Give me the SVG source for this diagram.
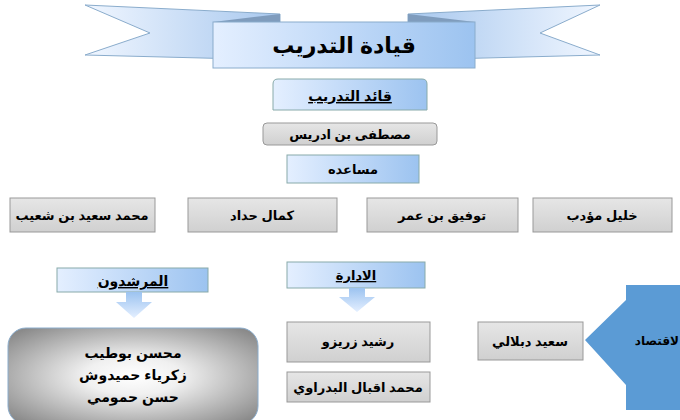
<svg xmlns="http://www.w3.org/2000/svg" width="680" height="420" viewBox="0 0 680 420">
<defs>
<linearGradient id="bl" x1="0" x2="1" y1="0" y2="0"><stop offset="0" stop-color="#e4efff"/><stop offset="1" stop-color="#9cc3f0"/></linearGradient>
<linearGradient id="blv" x1="0" x2="0" y1="0" y2="1"><stop offset="0" stop-color="#9cc3f0"/><stop offset="1" stop-color="#e4efff"/></linearGradient>
<linearGradient id="wl" x1="0" x2="1"><stop offset="0" stop-color="#f0f6ff"/><stop offset="1" stop-color="#a8c8ee"/></linearGradient>
<linearGradient id="wr" x1="1" x2="0"><stop offset="0" stop-color="#f0f6ff"/><stop offset="1" stop-color="#a8c8ee"/></linearGradient>
<radialGradient id="gr" cx="0.5" cy="0.5" r="0.65"><stop offset="0" stop-color="#ffffff"/><stop offset="0.3" stop-color="#f0f0f0"/><stop offset="1" stop-color="#8a8a8a"/></radialGradient>
<linearGradient id="gy" x1="0" x2="0" y1="0" y2="1"><stop offset="0" stop-color="#e6e6e6"/><stop offset="1" stop-color="#d0d0d0"/></linearGradient>
</defs>
<style>
.t{font-family:"Liberation Sans","DejaVu Sans",sans-serif;font-weight:bold;fill:#000;text-anchor:middle}
.g{fill:url(#gy);stroke:#999;stroke-width:1}
.b{fill:url(#bl);stroke:#8aa;stroke-width:1}
</style>
<g id="banner">
<polygon points="85,5 280,14 280,60 85,55 150,33" fill="url(#wl)" stroke="#8aaccc"/>
<polygon points="600,5 408,14 408,60 600,55 540,33" fill="url(#wr)" stroke="#8aaccc"/>
<polygon points="213,22 280,14 280,22" fill="#7f9cbd"/>
<polygon points="475,22 408,14 408,22" fill="#7f9cbd"/>
<rect x="213" y="22" width="262" height="46" fill="url(#bl)" stroke="#8aaccc"/>
<text class="t" x="344" y="53" font-size="22">قيادة التدريب</text>
</g>
<g id="leader"><path d="M273,110 V84 Q273,79 278,79 H422 Q427,79 427,84 V110 Z" class="b"/><text class="t" x="350" y="101" font-size="14" text-decoration="underline">قائد التدريب</text></g>
<g id="mustafa"><rect x="263" y="123" width="174" height="22" rx="4" class="g"/><text class="t" x="350" y="139" font-size="13">مصطفى بن ادريس</text></g>
<g id="assist"><rect x="287" y="155" width="132" height="28" class="b"/><text class="t" x="353" y="174" font-size="13">مساعده</text></g>
<g id="m1"><rect x="10" y="198" width="145" height="34" class="g"/><text class="t" x="82" y="220" font-size="13">محمد سعيد بن شعيب</text></g>
<g id="m2"><rect x="188" y="198" width="149" height="34" class="g"/><text class="t" x="262" y="220" font-size="13">كمال حداد</text></g>
<g id="m3"><rect x="367" y="198" width="151" height="34" class="g"/><text class="t" x="442" y="220" font-size="13">توفيق بن عمر</text></g>
<g id="m4"><rect x="533" y="198" width="139" height="34" class="g"/><text class="t" x="602" y="220" font-size="13">خليل مؤدب</text></g>
<g id="murshidun"><rect x="57" y="268" width="151" height="24" class="b"/><text class="t" x="133" y="286" font-size="14" text-decoration="underline">المرشدون</text></g>
<g id="idara"><rect x="287" y="262" width="138" height="26" class="b"/><text class="t" x="356" y="280" font-size="13" text-decoration="underline">الادارة</text></g>
<g id="connectors">
<polygon points="126,292 142,292 142,302 152,302 134,318 116,302 126,302" fill="url(#blv)"/>
<polygon points="349,288 365,288 365,297 375,297 357,312 339,297 349,297" fill="url(#blv)"/>
<polygon points="680,285 626,285 626,300 585,340 626,385 626,410 680,410" fill="#5b9bd5"/>
</g>
<g id="mentors"><rect x="8" y="328" width="250" height="96" rx="18" fill="url(#gr)" stroke="#8aaccc"/>
<text class="t" x="133" y="358" font-size="14">محسن بوطيب</text>
<text class="t" x="133" y="380" font-size="14">زكرياء حميدوش</text>
<text class="t" x="133" y="402" font-size="14">حسن حمومي</text></g>
<g id="rachid"><rect x="287" y="322" width="143" height="40" class="g"/><text class="t" x="358" y="346" font-size="13">رشيد زريزو</text></g>
<g id="iqbal"><rect x="287" y="372" width="143" height="30" class="g"/><text class="t" x="358" y="392" font-size="13">محمد اقبال البدراوي</text></g>
<g id="dablali"><rect x="478" y="322" width="105" height="38" class="g"/><text class="t" x="530" y="346" font-size="13">سعيد دبلالي</text></g>
<g id="iqtisad"><text class="t" x="679" y="345" font-size="12" style="text-anchor:end">لاقتصاد</text></g>
</svg>
